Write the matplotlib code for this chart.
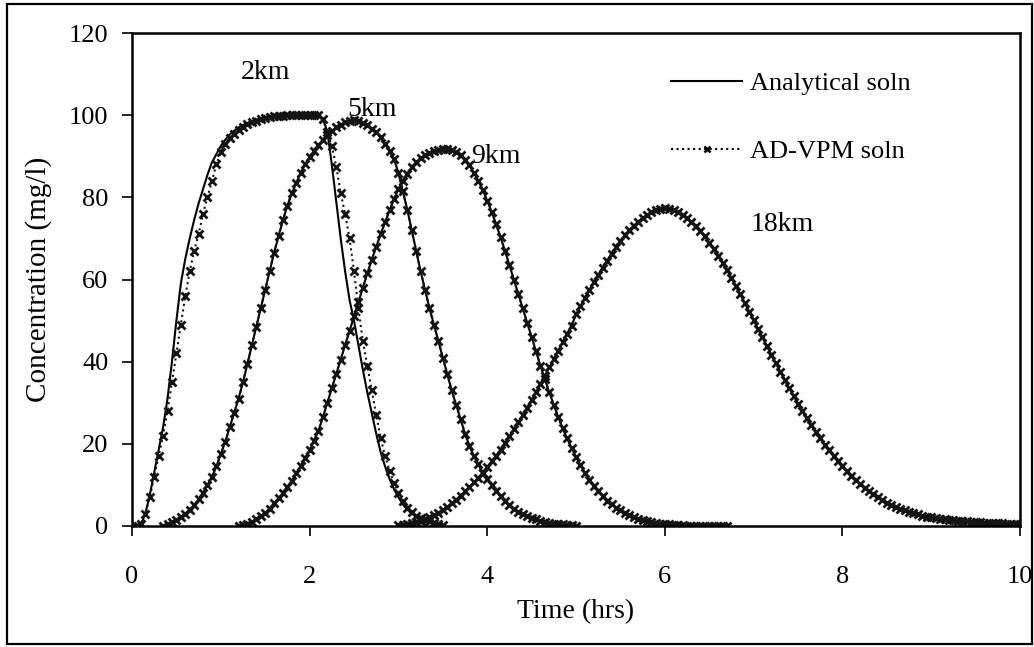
import numpy as np
import matplotlib
matplotlib.use("Agg")
import matplotlib.pyplot as plt
from matplotlib.lines import Line2D
from matplotlib.patches import Rectangle

plt.rcParams['font.family'] = ['Liberation Serif', 'DejaVu Serif']

# Sampling interval of the tabulated concentrations (hrs)
DT = 0.05

# 2 km station, starting at t = 0.00 h
t0_2km = 0.00
vpm_2km = [
    0, 0, 0.5, 3, 7, 12, 17, 22, 28, 35,
    42, 49, 56, 62, 67, 71, 76, 80, 84, 88,
    91, 93, 94.5, 95.5, 96.5, 97.2, 97.8, 98.3, 98.7, 99.1,
    99.4, 99.6, 99.7, 99.8, 99.9, 100, 100, 100, 100, 100,
    100, 100, 100, 99, 96, 92.5, 87.5, 81, 76, 70,
    62, 53, 45, 39, 33, 27, 21.5, 17, 13.5, 10.5,
    8, 6, 4.5, 3.3, 2.5, 2, 1.5, 1.1, 0.8, 0.5,
    0.3,
]
ana_2km = [
    0, 0, 0.3, 3, 7.5, 13, 18.5, 24, 31, 40,
    50, 59, 65, 70, 74.5, 78.5, 82, 85.5, 88.5, 90.5,
    92.5, 94, 95.3, 96.2, 97, 97.6, 98.1, 98.5, 98.9, 99.2,
    99.4, 99.6, 99.7, 99.8, 99.9, 100, 100, 100, 100, 100,
    100, 100, 100, 99, 96, 88, 79, 70, 62, 55,
    50, 44, 38, 32.5, 27.5, 22.5, 18, 14.5, 11.5, 9,
    7, 5.3, 4, 3, 2.2, 1.7, 1.2, 0.9, 0.6, 0.4,
    0.2,
]

# 5 km station, starting at t = 0.35 h
t0_5km = 0.35
vpm_5km = [
    0, 0.5, 1, 1.5, 2.2, 3, 4, 5, 6.5, 8,
    10, 12, 14.5, 17.5, 20.5, 24, 27.5, 31, 35, 39.5,
    44, 48.5, 53, 57.5, 62, 66.5, 70.5, 74.5, 78, 81,
    83.5, 86, 88, 89.8, 91.3, 92.7, 94, 95.2, 96.2, 97,
    97.7, 98.3, 98.7, 98.8, 98.6, 98.2, 97.5, 96.7, 95.8, 94.6,
    93, 91.3, 89.3, 86, 81.5, 77, 72, 67, 62, 57.5,
    53, 49, 45, 41, 37, 33, 29.5, 26, 22.5, 19.5,
    17, 15, 13, 11.5, 10, 8.5, 7.2, 6, 5, 4.2,
    3.5, 2.9, 2.4, 2, 1.6, 1.3, 1, 0.8, 0.6, 0.5,
    0.4, 0.3, 0.2, 0.1,
]
ana_5km = list(vpm_5km)

# 9 km station, starting at t = 1.20 h
t0_9km = 1.20
vpm_9km = [
    0, 0.3, 0.6, 1, 1.8, 2.5, 3.2, 4.2, 5.5, 6.8,
    8, 9.5, 11, 12.8, 14.7, 16.5, 18.5, 20.8, 23.2, 26.5,
    30, 33.5, 37, 40.5, 44, 47.5, 51, 54.5, 58, 61.5,
    64.8, 68, 71, 74, 76.8, 79.5, 82, 84, 85.8, 87.3,
    88.5, 89.5, 90.3, 90.9, 91.3, 91.6, 91.7, 91.7, 91.5, 91,
    90.2, 89.2, 87.8, 86, 84, 81.8, 79.2, 76.5, 73.5, 70.3,
    67, 63.5, 60, 56.5, 53, 49.5, 46, 42.5, 39, 35.7,
    32.5, 29.5, 26.5, 23.8, 21.3, 19, 16.8, 14.8, 13, 11.3,
    9.8, 8.5, 7.3, 6.2, 5.3, 4.5, 3.8, 3.2, 2.7, 2.2,
    1.8, 1.5, 1.2, 1, 0.8, 0.6, 0.5, 0.4, 0.3, 0.2,
    0.2, 0.1, 0.1, 0, 0, 0, 0, 0, 0, 0,
    0,
]
ana_9km = list(vpm_9km)

# 18 km station, starting at t = 3.00 h
t0_18km = 3.00
vpm_18km = [
    0.2, 0.3, 0.5, 0.7, 1.0, 1.3, 1.7, 2.1, 2.6, 3.2,
    3.9, 4.7, 5.5, 6.4, 7.4, 8.4, 9.5, 10.6, 11.8, 13.0,
    14.3, 15.7, 17.1, 18.6, 20.2, 21.8, 23.5, 25.2, 27.0, 28.8,
    30.7, 32.6, 34.6, 36.6, 38.6, 40.6, 42.7, 44.7, 46.8, 48.8,
    51.5, 53.5, 55.5, 57.4, 59.3, 61.1, 62.9, 64.6, 66.3, 67.9,
    69.4, 70.8, 72.0, 73.1, 74.1, 75.0, 75.8, 76.4, 76.9, 77.2,
    77.3, 77.2, 76.9, 76.4, 75.8, 75.0, 74.1, 73.0, 71.8, 70.5,
    69.0, 67.5, 65.8, 64.1, 62.3, 60.4, 58.4, 56.4, 54.3, 52.2,
    50.1, 48.0, 45.9, 43.8, 41.7, 39.6, 37.6, 35.6, 33.6, 31.7,
    29.8, 28.0, 26.2, 24.5, 22.9, 21.3, 19.8, 18.4, 17.0, 15.7,
    14.5, 13.3, 12.2, 11.2, 10.2, 9.3, 8.5, 7.7, 7.0, 6.3,
    5.7, 5.1, 4.6, 4.2, 3.8, 3.4, 3.1, 2.8, 2.5, 2.3,
    2.1, 1.9, 1.7, 1.6, 1.5, 1.4, 1.3, 1.2, 1.1, 1.0,
    0.95, 0.9, 0.85, 0.8, 0.75, 0.7, 0.65, 0.6, 0.6, 0.55,
    0.5,
]
ana_18km = list(vpm_18km)

stations = [
    ("2km", t0_2km, ana_2km, vpm_2km, (1.50, 110.5)),
    ("5km", t0_5km, ana_5km, vpm_5km, (2.70, 101.5)),
    ("9km", t0_9km, ana_9km, vpm_9km, (4.10, 90.0)),
    ("18km", t0_18km, ana_18km, vpm_18km, (7.32, 73.5)),
]

x_ticks = [0, 2, 4, 6, 8, 10]
y_ticks = [0, 20, 40, 60, 80, 100, 120]

W, H = 1034, 647
fig = plt.figure(figsize=(W / 100, H / 100), dpi=100)
fig.patch.set_facecolor("white")

# outer frame around the whole figure
fig.patches.append(Rectangle((7 / W, 3 / H), (1032 - 7) / W, (643 - 3) / H,
                             transform=fig.transFigure, fill=False,
                             edgecolor="black", linewidth=1.6))

ax = fig.add_axes([132 / W, 1 - 526 / H, (1020 - 132) / W, (526 - 33) / H])

MARKER = dict(marker="x", markersize=5.8, markeredgewidth=2.0)

for name, t0, ana, vpm, (lx, ly) in stations:
    t_ana = t0 + DT * np.arange(len(ana))
    t_vpm = t0 + DT * np.arange(len(vpm))
    ax.plot(t_ana, ana, color="black", linewidth=1.5, solid_capstyle="butt")
    ax.plot(t_vpm, vpm, color="#141414", linestyle=":", linewidth=1.5,
            **MARKER)
    ax.text(lx, ly, name, fontsize=20, ha="center", va="center")

ax.set_xlim(0, 10)
ax.set_ylim(0, 120)
ax.set_xticks(x_ticks)
ax.set_yticks(y_ticks)
ax.tick_params(axis="both", direction="out", length=7, width=1.2,
               labelsize=19, colors="black")
ax.tick_params(axis="x", pad=22)
ax.tick_params(axis="y", pad=10)
for sp in ax.spines.values():
    sp.set_linewidth(1.8)

ax.set_xlabel("Time (hrs)", fontsize=20, labelpad=8)
ax.set_ylabel("Concentration (mg/l)", fontsize=21, labelpad=12)

handles = [
    Line2D([], [], color="black", linewidth=1.5),
    Line2D([], [], color="black", linestyle=":", linewidth=1.5,
           marker="x", markersize=5.0, markeredgewidth=1.8),
]
ax.legend(handles, ["Analytical soln", "AD-VPM soln"], loc="upper left",
          bbox_to_anchor=(0.607, 0.922), frameon=False, fontsize=19,
          handlelength=2.7, handletextpad=0.3, labelspacing=1.7,
          numpoints=1, borderpad=0, borderaxespad=0)

fig.savefig("out.png", dpi=100, facecolor="white")
